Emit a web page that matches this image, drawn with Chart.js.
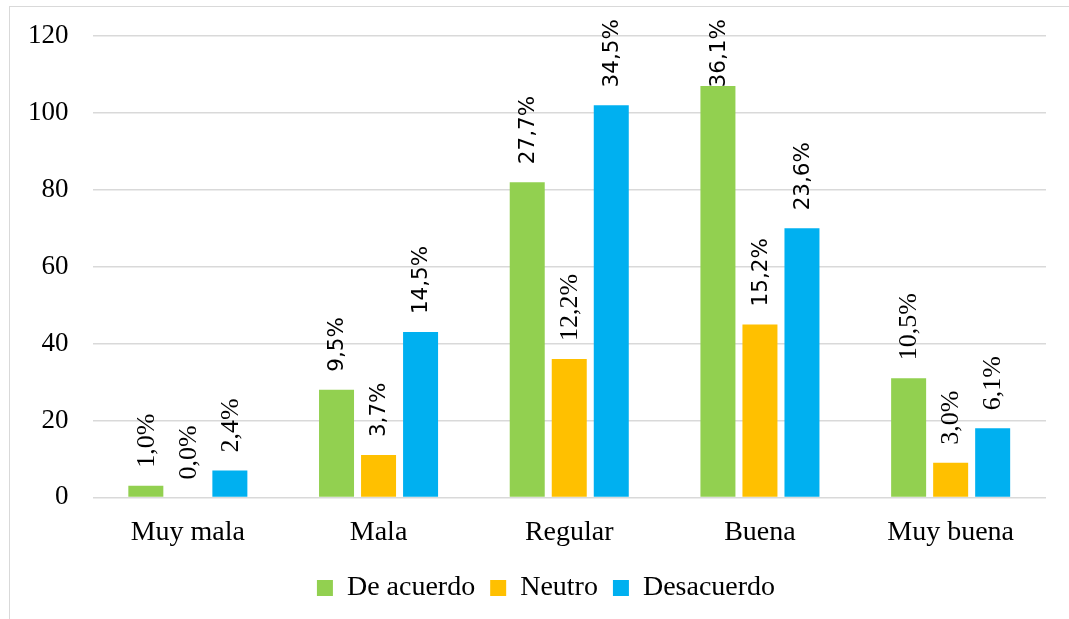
<!DOCTYPE html>
<html>
<head>
<meta charset="utf-8">
<script src="https://cdn.jsdelivr.net/npm/chart.js@4"></script>
<style>
  html, body { margin: 0; padding: 0; background: #fff; }
  #frame { position: absolute; left: 9px; top: 6px; width: 1070px; height: 630px; border: 1px solid #d9d9d9; box-sizing: border-box; }
  #wrap { position: absolute; left: 0; top: 0; width: 1069px; height: 619px; }
</style>
</head>
<body>
<div id="frame"></div>
<div id="wrap"><canvas id="chart"></canvas></div>
<script>
const categories = ['Muy mala', 'Mala', 'Regular', 'Buena', 'Muy buena'];
const seriesNames = ['De acuerdo', 'Neutro', 'Desacuerdo'];

const deAcuerdo = [3, 28, 82, 107, 31];
const neutro = [0, 11, 36, 45, 9];
const desacuerdo = [7, 43, 102, 70, 18];

const deAcuerdoPct = ['1,0%', '9,5%', '27,7%', '36,1%', '10,5%'];
const neutroPct = ['0,0%', '3,7%', '12,2%', '15,2%', '3,0%'];
const desacuerdoPct = ['2,4%', '14,5%', '34,5%', '23,6%', '6,1%'];

const yTicks = [0, 20, 40, 60, 80, 100, 120];

const colors = ['#92D050', '#FFC000', '#00B0F0'];
const serif = '"Liberation Serif", "Times New Roman", serif';
const sans = '"DejaVu Sans", sans-serif';

// some of the labels in the original are in a sans face, the rest serif
const sansLabels = [[1, 2, 3], [1, 3], [1, 2, 3]];

const barLabels = {
  id: 'barLabels',
  afterDatasetsDraw(chart) {
    const { ctx, chartArea } = chart;
    const pcts = [deAcuerdoPct, neutroPct, desacuerdoPct];
    chart.data.datasets.forEach((ds, di) => {
      const meta = chart.getDatasetMeta(di);
      meta.data.forEach((bar, i) => {
        const text = pcts[di][i];
        const isSans = sansLabels[di].includes(i);
        ctx.save();
        ctx.font = isSans ? '21.5px ' + sans : '26px ' + serif;
        ctx.fillStyle = '#000';
        const w = ctx.measureText(text).width;
        let start = bar.y - 18;
        const topLimit = chartArea.top - 17;
        if (start - w < topLimit) start = topLimit + w;
        ctx.translate(bar.x, start);
        ctx.rotate(-Math.PI / 2);
        ctx.textAlign = 'left';
        ctx.textBaseline = 'middle';
        ctx.fillText(text, 0, 1);
        ctx.restore();
      });
    });
  }
};

// the legend in the original sits a bit right of the plot centre
const legendShift = {
  id: 'legendShift',
  afterLayout(chart) {
    if (chart.legend) {
      chart.legend.left += 21;
      chart.legend.right += 21;
    }
  }
};

const ctx = document.getElementById('chart').getContext('2d');
new Chart(ctx, {
  type: 'bar',
  data: {
    labels: categories,
    datasets: [deAcuerdo, neutro, desacuerdo].map((vals, i) => ({
      label: seriesNames[i],
      data: vals,
      backgroundColor: colors[i],
      borderWidth: 0,
      categoryPercentage: 0.661,
      barPercentage: 0.833
    }))
  },
  options: {
    responsive: true,
    maintainAspectRatio: false,
    animation: false,
    layout: { padding: { left: 4, right: 23, top: 8, bottom: 7 } },
    plugins: {
      tooltip: { enabled: false },
      legend: {
        position: 'bottom',
        labels: {
          font: { family: serif, size: 28 },
          color: '#000',
          boxWidth: 16,
          boxHeight: 16,
          padding: 15
        }
      }
    },
    scales: {
      x: {
        grid: { display: false, drawTicks: false },
        border: { display: false },
        ticks: { font: { family: serif, size: 28 }, color: '#000', padding: 18 },
        afterFit(axis) { axis.height -= 8; }
      },
      y: {
        min: 0,
        max: 120,
        afterBuildTicks(axis) { axis.ticks = yTicks.map(v => ({ value: v })); },
        grid: { color: '#d9d9d9', lineWidth: 1.5, drawTicks: false },
        border: { display: false },
        ticks: { font: { family: serif, size: 27, lineHeight: 0.9 }, color: '#000', padding: 24 }
      }
    }
  },
  plugins: [barLabels, legendShift]
});
</script>
</body>
</html>
